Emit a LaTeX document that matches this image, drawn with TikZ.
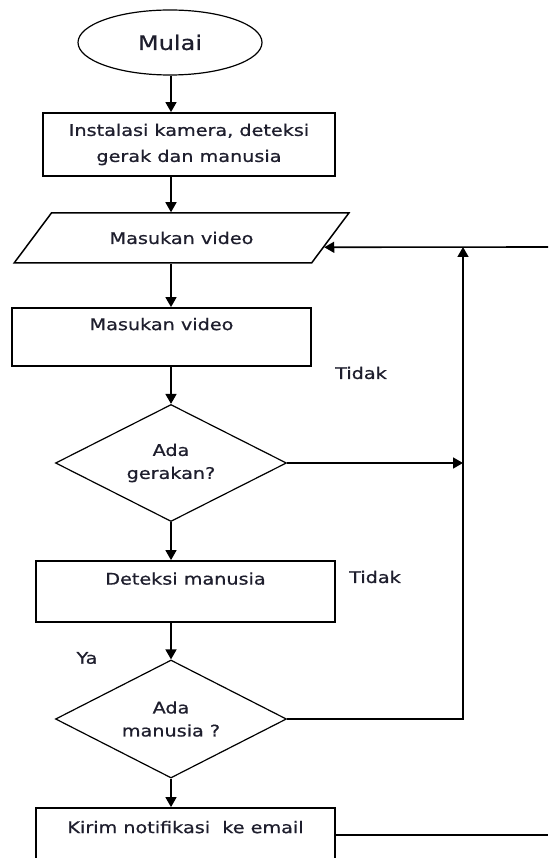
\documentclass[tikz,border=0pt]{standalone}
\usepackage{fontspec}
\usetikzlibrary{shapes.geometric,arrows.meta,calc}
\newfontfamily\djfont[FakeStretch=1.2,FakeBold=0.8]{DejaVu Sans}
\definecolor{txt}{RGB}{30,30,45}
\begin{document}
\begin{tikzpicture}[x=1pt,y=-1pt,
  every node/.style={font=\djfont\fontsize{16}{26}\selectfont, text=txt},
  conn/.style={line width=1.6pt, -{Triangle[width=11pt,length=10pt]}},
  plainline/.style={line width=1.6pt},
  procbox/.style={draw, line width=1.8pt, rectangle, align=center, inner sep=0pt},
  decision/.style={draw, line width=1.2pt, diamond, align=center, inner sep=0pt, shape aspect=2,
     font=\djfont\fontsize{16}{23}\selectfont},
  inputbox/.style={draw, line width=1.5pt, trapezium, trapezium left angle=31, trapezium right angle=149,
     trapezium stretches=true, inner sep=0pt},
  terminal/.style={draw, line width=1.2pt, ellipse, inner sep=0pt, font=\djfont\fontsize{20}{24}\selectfont}]
\clip (0,0) rectangle (548,858);
\useasboundingbox (0,0) rectangle (548,858);

\coordinate (ax) at (171,0);
\node[terminal, minimum width=184pt, minimum height=65pt] (start) at (170,42.5) {Mulai};
\node[procbox, minimum width=292pt, minimum height=63pt] (inst) at (189,144.5) {Instalasi kamera, deteksi\\gerak dan manusia};
\node[inputbox, minimum width=335pt, minimum height=50pt] (input) at (181.5,238) {Masukan video};
\node[procbox, minimum width=299pt, minimum height=58pt] (read) at (161.5,337) {Masukan video\\\mbox{}};
\node[decision, minimum width=231pt, minimum height=117pt] (mov) at (171,463) {Ada\\gerakan?};
\node[procbox, minimum width=299pt, minimum height=61pt] (det) at (185.5,591.5) {Deteksi manusia\\\mbox{}};
\node[decision, minimum width=231pt, minimum height=118pt] (hum) at (171,719) {Ada\\manusia ?};
\node[procbox, minimum width=299pt, minimum height=64pt] (notif) at (185.5,840) {Kirim notifikasi\ \ ke email\\\mbox{}};

\node (no1) at (361,373) {Tidak};
\node (no2) at (375,577) {Tidak};
\node (yes) at (87,658) {Ya};

\draw[conn] (start.south -| ax) -- (inst.north -| ax);
\draw[conn] (inst.south -| ax) -- (input.north -| ax);
\draw[conn] (input.south -| ax) -- (read.north -| ax);
\draw[conn] (read.south -| ax) -- (mov.north);
\draw[conn] (mov.south) -- (det.north -| ax);
\draw[conn] (det.south -| ax) -- (hum.north);
\draw[conn] (hum.south) -- (notif.north -| ax);

\coordinate (jn) at (463,247);
\coordinate (edgeT) at (548,247);
\coordinate (edgeB) at (548,835);
\draw[conn] (edgeT) -- ($(input.top right corner)!0.68!(input.bottom right corner)$);
\draw[conn] (mov.east) -- (mov.east -| jn);
\draw[conn] (hum.east) -| (jn);
\draw[plainline] ([yshift=5pt]notif.east) -- ([yshift=5pt]notif.east -| edgeB);
\end{tikzpicture}
\end{document}
